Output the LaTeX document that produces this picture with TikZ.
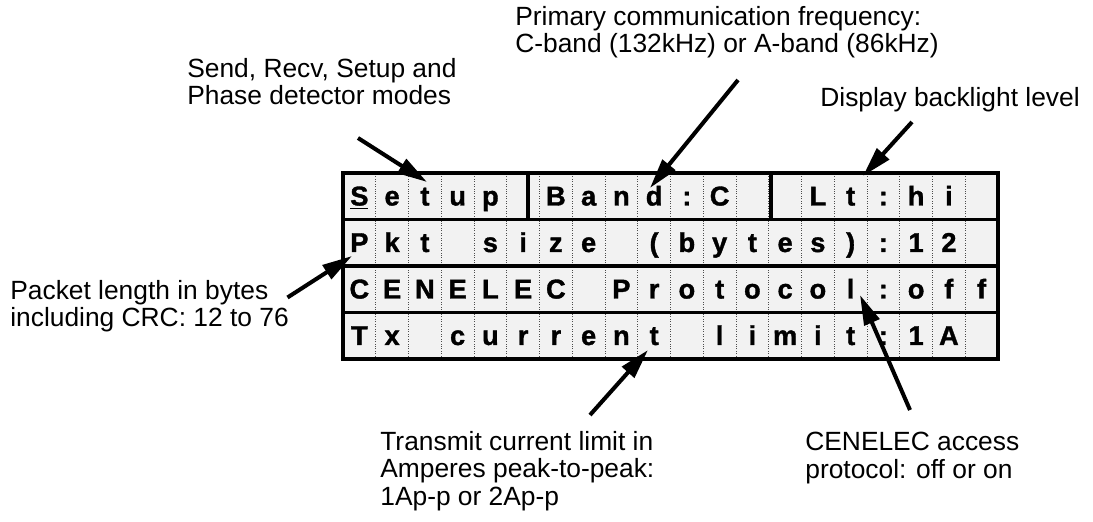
\documentclass[tikz,border=0pt]{standalone}
\usepackage{fontspec}
\setmainfont{Liberation Sans}
\newfontfamily\lcdfont[BoldFeatures={FakeBold=1.3}]{Liberation Sans}
\usetikzlibrary{arrows.meta}

\tikzset{
  lbl/.style={anchor=west, align=left, inner sep=0pt, font=\fontsize{15}{15.5}\selectfont},
  lcd/.style={anchor=base, inner sep=0pt, font=\lcdfont\bfseries\fontsize{15.5}{15.5}\selectfont},
  pointer/.style={line width=2.3pt, -{Triangle[length=0.6cm,width=0.32cm]}},
}

\begin{document}
\begin{tikzpicture}
    \useasboundingbox (0,0) rectangle (21.86,10.42);

    % display panel
    \fill[gray!10] (6.86,3.24) rectangle (19.96,6.96);
    \foreach \i in {1,...,19}
        \draw[densely dotted, gray!60!black, thin] (6.86+\i*0.655,3.24) -- (6.86+\i*0.655,6.96);
    \foreach \y in {4.17,5.10,6.03}
        \draw[line width=2.2pt] (6.86,\y) -- (19.96,\y);
    \draw[line width=2.2pt] (10.56,6.03) -- (10.56,6.96);
    \draw[line width=2.2pt] (15.42,6.03) -- (15.42,6.96);
    \draw[line width=2.8pt] (6.86,3.24) rectangle (19.96,6.96);

    % characters
    \foreach \ch [count=\c] in {\underline{S},e,t,u,p,{},B,a,n,d,:,C,{},{},L,t,:,h,i,{}}
        \node[lcd] (r1c\c) at (6.86+\c*0.655-0.3275,6.31) {\ch};
    \foreach \ch [count=\c] in {P,k,t,{},s,i,z,e,{},{(},b,y,t,e,s,{)},:,1,2,{}}
        \node[lcd] (r2c\c) at (6.86+\c*0.655-0.3275,5.38) {\ch};
    \foreach \ch [count=\c] in {C,E,N,E,L,E,C,{},P,r,o,t,o,c,o,l,:,o,f,f}
        \node[lcd] (r3c\c) at (6.86+\c*0.655-0.3275,4.45) {\ch};
    \foreach \ch [count=\c] in {T,x,{},c,u,r,r,e,n,t,{},l,i,m,i,t,:,1,A,{}}
        \node[lcd] (r4c\c) at (6.86+\c*0.655-0.3275,3.52) {\ch};

    % labels
    \node[lbl] (modes) at (3.74,8.79) {Send, Recv, Setup and\\Phase detector modes};
    \node[lbl] (freq) at (10.3,9.77) {Primary communication frequency:\\C-band (132kHz) or A-band (86kHz)};
    \node[lbl] (light) at (16.4,8.42) {Display backlight level};
    \node[lbl] (pkt) at (0.2,4.29) {Packet length in bytes\\including CRC: 12 to 76};
    \node[lbl] (txlim) at (7.6,1.0) {Transmit current limit in\\Amperes peak-to-peak:\\1Ap-p or 2Ap-p};
    \node[lbl] (cenacc) at (16.1,1.26) {CENELEC access\\protocol: off or on};

    % pointers
    \coordinate (modesTail) at (7.16,7.66);
    \coordinate (modesTip) at (8.54,6.78);
    \coordinate (freqTail) at (14.76,8.82);
    \coordinate (freqTip) at (13.0,6.66);
    \coordinate (lightTail) at (18.24,7.98);
    \coordinate (lightTip) at (17.26,6.9);
    \coordinate (pktTail) at (5.75,4.47);
    \coordinate (pktTip) at (7.04,5.3);
    \coordinate (txTail) at (11.8,2.12);
    \coordinate (txTip) at (12.96,3.42);
    \coordinate (cenTail) at (18.2,2.22);
    \coordinate (cenTip) at (17.2,4.52);

    \draw[pointer] (modesTail) -- (modesTip);
    \draw[pointer] (freqTail) -- (freqTip);
    \draw[pointer] (lightTail) -- (lightTip);
    \draw[pointer] (pktTail) -- (pktTip);
    \draw[pointer] (txTail) -- (txTip);
    \draw[pointer] (cenTail) -- (cenTip);
\end{tikzpicture}
\end{document}
